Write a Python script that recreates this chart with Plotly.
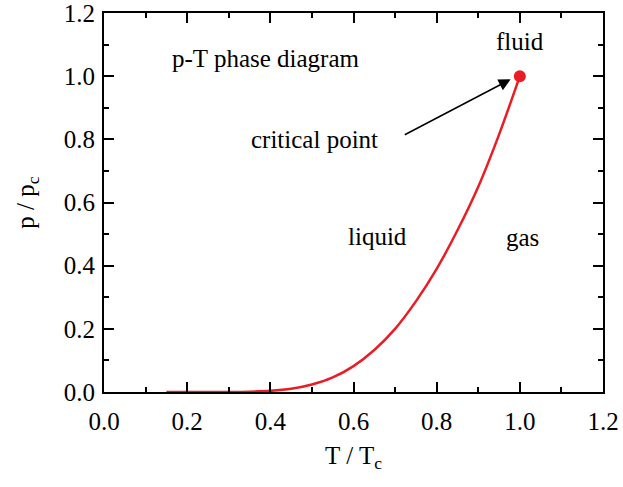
import plotly.graph_objects as go

# Data
T_vals = [0.15, 0.20, 0.25, 0.30, 0.35, 0.40, 0.45, 0.50, 0.55, 0.60, 0.65,
          0.70, 0.75, 0.80, 0.85, 0.90, 0.95, 1.00]
p_vals = [0.0, 0.0, 0.00002, 0.0002, 0.001, 0.0036, 0.010, 0.0235, 0.046,
          0.082, 0.133, 0.200, 0.287, 0.390, 0.512, 0.650, 0.815, 1.0]
crit_T = [1.0]
crit_p = [1.0]

tick_vals = [0.0, 0.2, 0.4, 0.6, 0.8, 1.0, 1.2]
tick_text = ["0.0", "0.2", "0.4", "0.6", "0.8", "1.0", "1.2"]

labels = ["p-T phase diagram", "fluid", "critical point", "liquid", "gas"]
label_T = [0.389, 1.0, 0.507, 0.658, 1.006]
label_p = [1.055, 1.109, 0.798, 0.491, 0.489]

arrow_tail = (0.7197, 0.812)
arrow_head = (0.978, 0.990)

RED = "#ea1c24"
FONT = "Liberation Serif"
FS = 25

fig = go.Figure()
fig.add_trace(go.Scatter(x=T_vals, y=p_vals, mode="lines",
                         line=dict(color=RED, width=2.5, shape="spline"),
                         showlegend=False, hoverinfo="skip"))
fig.add_trace(go.Scatter(x=crit_T, y=crit_p, mode="markers",
                         marker=dict(color=RED, size=12),
                         showlegend=False, hoverinfo="skip"))

for t, xx, yy in zip(labels, label_T, label_p):
    fig.add_annotation(x=xx, y=yy, text=t, showarrow=False,
                       font=dict(family=FONT, size=FS, color="black"),
                       xanchor="center", yanchor="middle")

fig.add_annotation(x=arrow_head[0], y=arrow_head[1], ax=arrow_tail[0], ay=arrow_tail[1],
                   axref="x", ayref="y", xref="x", yref="y", text="",
                   showarrow=True, arrowhead=2, arrowsize=1.6, arrowwidth=1.5,
                   arrowcolor="black")

axis_common = dict(
    showline=True, linecolor="black", linewidth=2, mirror="ticks",
    ticks="inside", ticklen=10, tickwidth=1.5, tickcolor="black",
    showgrid=False, zeroline=False,
    tickfont=dict(family=FONT, size=FS, color="black"),
    minor=dict(ticks="inside", ticklen=5, tickwidth=1.5, tickcolor="black", dtick=0.1, showgrid=False),
    tickmode="array", tickvals=tick_vals, ticktext=tick_text,
    range=[0, 1.2], ticklabeloverflow="allow", automargin=False,
)

fig.update_xaxes(title=dict(text="T / T<sub>c</sub>", font=dict(family=FONT, size=FS, color="black"), standoff=12),
                 ticklabelstandoff=6, **axis_common)
fig.update_yaxes(title=dict(text="p / p<sub>c</sub>", font=dict(family=FONT, size=FS, color="black"), standoff=22),
                 ticklabelstandoff=2, **axis_common)

fig.update_layout(width=623, height=487, margin=dict(l=104, r=20, t=13, b=95),
                  plot_bgcolor="white", paper_bgcolor="white",
                  font=dict(family=FONT, size=FS, color="black"))

fig.write_html("out.html")
